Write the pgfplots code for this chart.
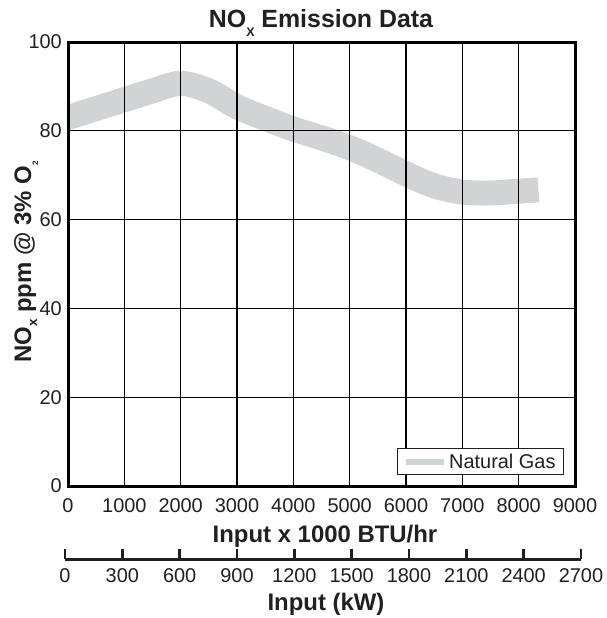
\documentclass[border=0pt]{standalone}
\usepackage{pgfplots}
\pgfplotsset{compat=1.18}
\usepackage{fontspec}
\setmainfont{Liberation Sans}
\definecolor{band}{RGB}{209,211,212}
\definecolor{txt}{RGB}{35,31,32}
\newcommand{\fs}[1]{\fontsize{#1}{#1}\selectfont}

\begin{document}
\begin{tikzpicture}
\useasboundingbox (0bp,0bp) rectangle (607bp,-618bp);
\begin{axis}[
  at={(68bp,-486bp)}, anchor=origin,
  scale only axis, width=507bp, height=444bp,
  xmin=0, xmax=9000, ymin=0, ymax=100,
  xtick={0,1000,...,9000}, ytick={0,20,...,100},
  scaled x ticks=false, scaled y ticks=false,
  grid=major, grid style={black, line width=1.2bp},
  axis line style={black, line width=3bp},
  major tick length=0pt,
  axis on top,
  /pgf/number format/assume math mode=true,
  /pgf/number format/set thousands separator={},
  ticklabel style={font=\fs{20}, text=txt, inner sep=0pt},
  xticklabel style={anchor=north, yshift=-12bp},
  yticklabel style={anchor=east, xshift=-6bp},
  legend style={at={(1,0)}, anchor=south east, xshift=-11bp, yshift=11bp,
    draw=txt, line width=1bp, fill=white, font=\fs{20}, text=txt,
    inner xsep=6bp, inner ysep=3bp},
  legend cell align=left,
  legend image code/.code={\draw[band, line width=6bp, shorten <=0pt, shorten >=0pt] (0bp,0bp) -- (38bp,0bp);},
]
\addplot[band, line width=25bp, smooth, shorten <=-14bp] coordinates {
(0,83) (500,85) (1000,87) (1500,89) (2000,90.7) (2500,89.0) (3000,85.4)
(3500,82.8) (4000,80.4) (4500,78.4) (5000,76.2) (5500,73.4)
(6000,70.3) (6500,67.6) (7000,66.2) (7500,66) (8000,66.4) (8350,66.7)
};
\addlegendentry{Natural Gas}
\end{axis}

\begin{axis}[
  at={(65bp,-559bp)}, anchor=origin,
  scale only axis, width=516bp, height=10bp,
  xmin=0, xmax=2700, ymin=0, ymax=1,
  axis x line=bottom, axis y line=none,
  axis line style={line width=3bp, txt, -},
  xtick={0,300,...,2700}, xtick align=inside, major tick length=10bp,
  tick style={line width=2.5bp, txt},
  scaled x ticks=false,
  /pgf/number format/assume math mode=true,
  /pgf/number format/set thousands separator={},
  ticklabel style={font=\fs{20}, text=txt, inner sep=0pt},
  xticklabel style={anchor=north, yshift=-9bp},
]
\end{axis}

\node[anchor=base, text=txt, font=\bfseries\fs{25}] at (321bp,-27bp) {NO\raisebox{-9bp}{\fs{12.5}X} Emission Data};
\node[anchor=base, text=txt, font=\bfseries\fs{24}] at (325bp,-542bp) {Input x 1000 BTU/hr};
\node[anchor=base, text=txt, font=\bfseries\fs{24}] at (326bp,-610bp) {Input (kW)};
\node[rotate=90, anchor=base, text=txt, font=\bfseries\fs{24}] at (31bp,-262bp) {NO\raisebox{-6bp}{\fs{13.5}x} ppm @ 3\% O\raisebox{-7bp}{\fs{8}2}};
\end{tikzpicture}
\end{document}
